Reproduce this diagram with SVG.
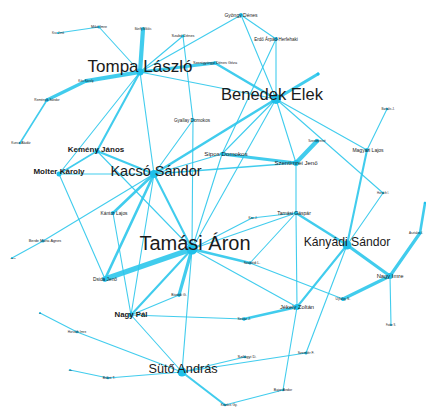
<svg xmlns="http://www.w3.org/2000/svg" width="426" height="409" viewBox="0 0 426 409">
<style>
.e line{stroke:#2cc7eb;stroke-linecap:round;stroke-opacity:0.9}
.w1{stroke-width:1.1}.w15{stroke-width:1.6}.w2{stroke-width:2.1}.w25{stroke-width:2.6}.w3{stroke-width:3.2}.w4{stroke-width:4.2}.w5{stroke-width:5.5}
circle{fill:#1fc0ea}
text{font-family:"Liberation Sans",Arial,sans-serif;fill:#1a1a1a;text-anchor:middle}
.b{font-weight:bold}
</style>
<rect width="426" height="409" fill="#ffffff"/>
<g id="edges" class="e">
<line class="w1" x1="140" y1="72" x2="99" y2="27"/>
<line class="w1" x1="99" y1="27" x2="58" y2="33"/>
<line class="w4" x1="140" y1="72" x2="86" y2="81"/>
<line class="w3" x1="86" y1="81" x2="47" y2="100"/>
<line class="w15" x1="47" y1="100" x2="20" y2="143"/>
<line class="w4" x1="140" y1="72" x2="143" y2="29"/>
<line class="w3" x1="140" y1="72" x2="215" y2="63"/>
<line class="w25" x1="215" y1="63" x2="276" y2="99"/>
<line class="w1" x1="140" y1="72" x2="276" y2="99"/>
<line class="w1" x1="140" y1="72" x2="183" y2="36"/>
<line class="w1" x1="140" y1="72" x2="241" y2="15"/>
<line class="w2" x1="140" y1="72" x2="97" y2="151"/>
<line class="w1" x1="140" y1="72" x2="59" y2="174"/>
<line class="w1" x1="140" y1="72" x2="154" y2="174"/>
<line class="w1" x1="241" y1="15" x2="276" y2="39"/>
<line class="w1" x1="241" y1="15" x2="276" y2="99"/>
<line class="w1" x1="276" y1="39" x2="276" y2="99"/>
<line class="w1" x1="276" y1="39" x2="222" y2="154"/>
<line class="w1" x1="183" y1="36" x2="193" y2="120"/>
<line class="w3" x1="276" y1="99" x2="318" y2="74"/>
<line class="w25" x1="276" y1="99" x2="154" y2="174"/>
<line class="w1" x1="276" y1="99" x2="192" y2="249"/>
<line class="w1" x1="276" y1="99" x2="296" y2="163"/>
<line class="w1" x1="276" y1="99" x2="367" y2="150"/>
<line class="w1" x1="276" y1="99" x2="383" y2="193"/>
<line class="w1" x1="276" y1="99" x2="222" y2="154"/>
<line class="w1" x1="193" y1="120" x2="192" y2="249"/>
<line class="w1" x1="193" y1="120" x2="154" y2="174"/>
<line class="w15" x1="97" y1="151" x2="59" y2="174"/>
<line class="w2" x1="97" y1="151" x2="154" y2="174"/>
<line class="w1" x1="97" y1="151" x2="192" y2="249"/>
<line class="w1" x1="59" y1="174" x2="154" y2="174"/>
<line class="w1" x1="59" y1="174" x2="105" y2="279"/>
<line class="w25" x1="154" y1="174" x2="113" y2="213"/>
<line class="w2" x1="154" y1="174" x2="192" y2="249"/>
<line class="w1" x1="154" y1="174" x2="43" y2="241"/>
<line class="w1" x1="43" y1="241" x2="12" y2="258"/>
<line class="w25" x1="154" y1="174" x2="105" y2="279"/>
<line class="w1" x1="154" y1="174" x2="222" y2="154"/>
<line class="w15" x1="154" y1="174" x2="296" y2="163"/>
<line class="w1" x1="154" y1="174" x2="131" y2="315"/>
<line class="w1" x1="113" y1="213" x2="131" y2="315"/>
<line class="w3" x1="222" y1="154" x2="296" y2="163"/>
<line class="w1" x1="222" y1="154" x2="192" y2="249"/>
<line class="w4" x1="296" y1="163" x2="317" y2="141"/>
<line class="w1" x1="296" y1="163" x2="296" y2="213"/>
<line class="w1" x1="387" y1="109" x2="367" y2="150"/>
<line class="w2" x1="367" y1="150" x2="347" y2="245"/>
<line class="w1" x1="347" y1="245" x2="383" y2="193"/>
<line class="w3" x1="347" y1="245" x2="390" y2="276"/>
<line class="w25" x1="347" y1="245" x2="296" y2="213"/>
<line class="w2" x1="347" y1="245" x2="297" y2="307"/>
<line class="w1" x1="347" y1="245" x2="306" y2="353"/>
<line class="w25" x1="420" y1="233" x2="425" y2="203"/>
<line class="w3" x1="420" y1="233" x2="390" y2="276"/>
<line class="w3" x1="390" y1="276" x2="343" y2="299"/>
<line class="w1" x1="390" y1="276" x2="391" y2="325"/>
<line class="w1" x1="250" y1="263" x2="343" y2="299"/>
<line class="w1" x1="296" y1="213" x2="297" y2="307"/>
<line class="w1" x1="296" y1="213" x2="252" y2="218"/>
<line class="w1" x1="296" y1="213" x2="250" y2="263"/>
<line class="w1" x1="296" y1="213" x2="192" y2="249"/>
<line class="w1" x1="192" y1="249" x2="252" y2="218"/>
<line class="w25" x1="192" y1="249" x2="250" y2="263"/>
<line class="w5" x1="192" y1="249" x2="105" y2="279"/>
<line class="w2" x1="192" y1="249" x2="131" y2="315"/>
<line class="w3" x1="192" y1="249" x2="179" y2="295"/>
<line class="w1" x1="192" y1="249" x2="182" y2="372"/>
<line class="w1" x1="192" y1="249" x2="297" y2="307"/>
<line class="w25" x1="297" y1="307" x2="244" y2="319"/>
<line class="w1" x1="131" y1="315" x2="244" y2="319"/>
<line class="w1" x1="297" y1="307" x2="283" y2="390"/>
<line class="w1" x1="131" y1="315" x2="179" y2="295"/>
<line class="w1" x1="131" y1="315" x2="182" y2="372"/>
<line class="w1" x1="182" y1="372" x2="108" y2="378"/>
<line class="w1" x1="108" y1="378" x2="70" y2="370"/>
<line class="w1" x1="182" y1="372" x2="77" y2="332"/>
<line class="w1" x1="77" y1="332" x2="40" y2="313"/>
<line class="w2" x1="182" y1="372" x2="225" y2="405"/>
<line class="w1" x1="225" y1="405" x2="283" y2="390"/>
<line class="w1" x1="182" y1="372" x2="306" y2="353"/>
<line class="w1" x1="182" y1="372" x2="245" y2="357"/>
</g>
<g id="n1"><circle cx="241" cy="15" r="2"/><text x="241" y="16.5" font-size="5">Gyöngy Dénes</text></g>
<g id="n2"><circle cx="276" cy="39" r="2"/><text x="276" y="40.5" font-size="4.5">Erdő Árpád-Herfehaki</text></g>
<g id="n3"><circle cx="183" cy="36" r="1.5"/><text x="183" y="37.3" font-size="3.8">Szabó Dénes</text></g>
<g id="n4"><circle cx="215" cy="63" r="1.8"/><text x="215" y="64.3" font-size="3.8">Szentgyörgyi Dénes Géza</text></g>
<g id="n5"><circle cx="140" cy="72" r="3.5"/><text x="140" y="72" font-size="17">Tompa László</text></g>
<g id="n6"><circle cx="276" cy="99" r="5"/><text x="272" y="99.5" font-size="16.5">Benedek Elek</text></g>
<g id="n7"><circle cx="99" cy="27" r="1.5"/><text x="99" y="28.2" font-size="3.6">Mikó Imre</text></g>
<g id="n8"><circle cx="58" cy="33" r="1"/><text x="58" y="34" font-size="2.8">Kiss Jenő</text></g>
<g id="n9"><circle cx="86" cy="81" r="1.5"/><text x="86" y="82.2" font-size="3.2">Kós Károly</text></g>
<g id="n10"><circle cx="47" cy="100" r="1.8"/><text x="47" y="101.2" font-size="3.2">Reményik Sándor</text></g>
<g id="n11"><circle cx="20" cy="143" r="1.3"/><text x="21" y="144.2" font-size="3.3">Kuncz Aladár</text></g>
<g id="n12"><circle cx="143" cy="29" r="1.5"/><text x="143" y="30" font-size="2.8">Bánffy Miklós</text></g>
<g id="n13"><circle cx="193" cy="120" r="1.8"/><text x="192" y="121.5" font-size="4.6">Gyallay Domokos</text></g>
<g id="n14"><circle cx="97" cy="151" r="2.5"/><text class="b" x="96" y="152" font-size="8">Kemény János</text></g>
<g id="n15"><circle cx="59" cy="174" r="2.5"/><text class="b" x="59" y="174" font-size="8">Molter Károly</text></g>
<g id="n16"><circle cx="154" cy="174" r="4"/><text x="156" y="176" font-size="14.5">Kacsó Sándor</text></g>
<g id="n17"><circle cx="222" cy="154" r="2"/><text x="226" y="156" font-size="6.2">Sipos Domokos</text></g>
<g id="n18"><circle cx="296" cy="163" r="3"/><text x="296" y="165" font-size="6">Szentimrei Jenő</text></g>
<g id="n19"><circle cx="317" cy="141" r="2"/><text x="317" y="142" font-size="3">Szentimreiné</text></g>
<g id="n20"><circle cx="318" cy="74" r="1.5"/></g>
<g id="n21"><circle cx="387" cy="109" r="1.2"/><text x="388" y="110" font-size="3">Bartalis J.</text></g>
<g id="n22"><circle cx="367" cy="150" r="2"/><text x="368" y="152" font-size="5">Magyari Lajos</text></g>
<g id="n23"><circle cx="296" cy="213" r="2"/><text x="294" y="214.8" font-size="5">Tamási Gáspár</text></g>
<g id="n24"><circle cx="383" cy="193" r="1.2"/><text x="383" y="194" font-size="2.8">Horváth I.</text></g>
<g id="n25"><circle cx="420" cy="233" r="1.5"/><text x="416" y="234" font-size="3">Asztalos I.</text></g>
<g id="n26"><circle cx="425" cy="203" r="1.2"/></g>
<g id="n27"><circle cx="347" cy="245" r="4.5"/><text x="347" y="245.5" font-size="12.2">Kányádi Sándor</text></g>
<g id="n28"><circle cx="390" cy="276" r="3"/><text x="390" y="278" font-size="5.8">Nagy Imre</text></g>
<g id="n29"><circle cx="343" cy="299" r="2"/><text x="343" y="300.2" font-size="3.5">Ujfalvy S.</text></g>
<g id="n30"><circle cx="391" cy="325" r="1"/><text x="391" y="326" font-size="2.6">Fodor S.</text></g>
<g id="n31"><circle cx="297" cy="307" r="3"/><text x="297" y="309" font-size="5.8">Jékely Zoltán</text></g>
<g id="n32"><circle cx="306" cy="353" r="1.5"/><text x="306" y="354.2" font-size="3.5">Szemlér F.</text></g>
<g id="n33"><circle cx="283" cy="390" r="1.2"/><text x="283" y="391.2" font-size="3.5">Bajor Andor</text></g>
<g id="n34"><circle cx="192" cy="249" r="5.5"/><text x="195" y="249.5" font-size="20">Tamási Áron</text></g>
<g id="n35"><circle cx="250" cy="263" r="1.5"/><text x="252" y="264.2" font-size="3.5">Szabédi L.</text></g>
<g id="n36"><circle cx="252" cy="218" r="1"/><text x="253" y="219" font-size="3">Kiss J.</text></g>
<g id="n37"><circle cx="113" cy="213" r="2"/><text x="114" y="214.5" font-size="4.8">Kántor Lajos</text></g>
<g id="n38"><circle cx="43" cy="241" r="1.5"/><text x="45" y="242.3" font-size="3.8">Berde Mária Ágnes</text></g>
<g id="n39"><circle cx="12" cy="258" r="1"/><text x="13" y="259" font-size="2.2">Ligeti</text></g>
<g id="n40"><circle cx="105" cy="279" r="2.5"/><text x="105" y="280.5" font-size="4.8">Dsida Jenő</text></g>
<g id="n41"><circle cx="131" cy="315" r="2.5"/><text class="b" x="131" y="316.5" font-size="7.8">Nagy Pál</text></g>
<g id="n42"><circle cx="179" cy="295" r="1.8"/><text x="179" y="296.2" font-size="3.5">Bözödi G.</text></g>
<g id="n43"><circle cx="40" cy="313" r="1"/><text x="40" y="314" font-size="2.4">Ki</text></g>
<g id="n44"><circle cx="77" cy="332" r="1.3"/><text x="77" y="333.2" font-size="3.2">Horváth Imre</text></g>
<g id="n45"><circle cx="70" cy="370" r="1"/><text x="70" y="371" font-size="2.4">Ács</text></g>
<g id="n46"><circle cx="108" cy="378" r="1.3"/><text x="109" y="379.2" font-size="3.5">Bálint T.</text></g>
<g id="n47"><circle cx="182" cy="372" r="4.5"/><text x="183" y="372.5" font-size="12.7">Sütő András</text></g>
<g id="n48"><circle cx="244" cy="319" r="1.8"/><text x="244" y="320.2" font-size="3.5">Szász J.</text></g>
<g id="n49"><circle cx="245" cy="357" r="1.3"/><text x="247" y="358.3" font-size="4">Szilágyi D.</text></g>
<g id="n50"><circle cx="225" cy="405" r="1.3"/><text x="229" y="406.2" font-size="3.3">Kovács Gy.</text></g>
</svg>
